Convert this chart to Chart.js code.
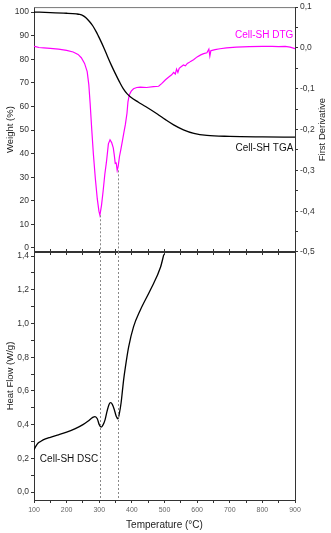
<!DOCTYPE html>
<html><head><meta charset="utf-8">
<script src="https://cdn.jsdelivr.net/npm/chart.js@4"></script>
<style>
html,body{margin:0;padding:0;background:#fff;}
#wrap{position:relative;width:331px;height:533px;}
canvas{position:absolute;left:0;top:0;}
</style></head><body>
<div id="wrap"><canvas id="c1" width="331" height="533"></canvas><canvas id="c2" width="331" height="533"></canvas></div>
<script>
// ---- data ----
const tgaTemp   = [100,150,200,230,240,250,260,270,280,290,297,303,315,325,337,349,362,374,385,395,420,442,478,503,528,558,590,630,700,800,900];
const tgaWeight = [100,99.8,99.5,99.2,99.0,98.5,97.5,96.0,94.2,91.8,89.9,88.2,84.6,81.3,77.5,74.0,70.4,67.4,65.4,64.1,61.8,60.0,56.8,54.4,52.2,50.1,48.6,47.7,47.3,47.1,47.0];

const dtgTemp  = [100,105,115,130,150,175,200,220,235,245,255,263,268,272,277,282,288,294,299,302,307,312,317,322,328,333,338,343,346,349,352,355,358,362,366,371,376,380,385,388,392,398,405,415,426,445,466,482,492,503,515,522,528,533,537,541,545,550,558,564,570,575,580,589,600,611,620,630,636,639,642,646,655,670,690,720,760,800,830,850,870,885,900];
const dtgValue = [0.004,0.003,0.001,0.0,-0.001,-0.003,-0.006,-0.01,-0.016,-0.024,-0.038,-0.058,-0.09,-0.135,-0.2,-0.26,-0.32,-0.37,-0.4,-0.41,-0.385,-0.35,-0.31,-0.28,-0.235,-0.225,-0.232,-0.245,-0.262,-0.283,-0.282,-0.3,-0.29,-0.266,-0.25,-0.228,-0.205,-0.188,-0.16,-0.132,-0.115,-0.106,-0.1,-0.097,-0.096,-0.097,-0.095,-0.094,-0.087,-0.078,-0.07,-0.066,-0.06,-0.064,-0.052,-0.06,-0.05,-0.047,-0.042,-0.044,-0.038,-0.036,-0.033,-0.029,-0.022,-0.017,-0.014,-0.012,-0.003,-0.02,-0.007,-0.006,-0.004,-0.002,0.0,0.002,0.003,0.004,0.004,0.003,0.004,0.002,-0.002];

const dscTemp = [100,105,112,120,135,150,175,200,225,250,265,280,287,294,300,306,312,318,324,330,335,340,346,352,357,362,367,371,375,380,390,405,426,457,488,498];
const dscHeat = [0.25,0.27,0.29,0.30,0.315,0.325,0.34,0.355,0.375,0.40,0.42,0.443,0.448,0.435,0.40,0.385,0.40,0.43,0.48,0.52,0.53,0.52,0.49,0.45,0.435,0.47,0.53,0.6,0.67,0.74,0.86,0.98,1.08,1.2,1.335,1.41];

const markTemps = [302, 356];
const markDtg   = [-0.41, -0.30];

const xTicks      = [100,150,200,250,300,350,400,450,500,550,600,650,700,750,800,850,900];
const weightTicks = [0,5,10,15,20,25,30,35,40,45,50,55,60,65,70,75,80,85,90,95,100];
const derivTicks  = [0.1,0.05,0,-0.05,-0.1,-0.15,-0.2,-0.25,-0.3,-0.35,-0.4,-0.45,-0.5];
const heatTicks   = [0,0.1,0.2,0.3,0.4,0.5,0.6,0.7,0.8,0.9,1.0,1.1,1.2,1.3,1.4];

// ---- helpers ----
const FAM = '"Liberation Sans", Arial, sans-serif';
Chart.defaults.font.family = FAM;
const zip = (a,b) => a.map((v,i)=>({x:v,y:b[i]}));
const isMajor = (v, step) => Math.abs(v/step - Math.round(v/step)) < 1e-6;
const comma = v => (Math.abs(v) < 1e-9 ? 0 : v).toFixed(1).replace('.', ',');
const setTicks = arr => s => { s.ticks = arr.map(v=>({value:v})); };
const AX = '#333';

const topPlugin = {
  id:'topOverlay',
  afterDatasetsDraw(chart){
    const {ctx, chartArea:a, scales:{x, yW, yD}} = chart;
    ctx.save();
    ctx.strokeStyle = '#777'; ctx.lineWidth = 1;
    ctx.beginPath(); ctx.moveTo(a.left, a.top+0.5); ctx.lineTo(a.right, a.top+0.5); ctx.stroke();
    ctx.setLineDash([2,2]); ctx.strokeStyle = '#888';
    markTemps.forEach((t,i)=>{
      const px = Math.round(x.getPixelForValue(t))+0.5;
      ctx.beginPath(); ctx.moveTo(px, yD.getPixelForValue(markDtg[i])); ctx.lineTo(px, a.bottom); ctx.stroke();
    });
    ctx.setLineDash([]);
    ctx.font = '10px ' + FAM; ctx.textAlign = 'right'; ctx.textBaseline = 'middle';
    ctx.fillStyle = '#ff00ff';
    ctx.fillText('Cell-SH DTG', x.getPixelForValue(895), yD.getPixelForValue(0.031));
    ctx.fillStyle = '#111';
    ctx.fillText('Cell-SH TGA', x.getPixelForValue(895), yW.getPixelForValue(42.4));
    // right-axis title, reading bottom to top as in the reference
    ctx.translate(yD.right - 9, (a.top + a.bottom) / 2);
    ctx.rotate(-Math.PI / 2);
    ctx.font = '9.5px ' + FAM; ctx.textAlign = 'center'; ctx.fillStyle = '#222';
    ctx.fillText('First Derivative', 0, 0);
    ctx.restore();
  }
};
const botPlugin = {
  id:'botOverlay',
  afterDatasetsDraw(chart){
    const {ctx, chartArea:a, scales:{x, yH}} = chart;
    ctx.save();
    ctx.strokeStyle = AX; ctx.lineWidth = 1;
    ctx.beginPath(); ctx.moveTo(a.right+0.5, a.top); ctx.lineTo(a.right+0.5, a.bottom); ctx.stroke();
    ctx.setLineDash([2,2]); ctx.strokeStyle = '#888';
    markTemps.forEach(t=>{
      const px = Math.round(x.getPixelForValue(t))+0.5;
      ctx.beginPath(); ctx.moveTo(px, a.top); ctx.lineTo(px, a.bottom); ctx.stroke();
    });
    ctx.setLineDash([]);
    ctx.font = '10px ' + FAM; ctx.textAlign = 'left'; ctx.textBaseline = 'middle';
    ctx.fillStyle = '#111';
    ctx.fillText('Cell-SH DSC', x.getPixelForValue(118), yH.getPixelForValue(0.196));
    ctx.restore();
  }
};

const yTickFont = {size:8.5, family:FAM};

new Chart(document.getElementById('c1'), {
  type:'scatter',
  data:{datasets:[
    {label:'Cell-SH TGA', data:zip(tgaTemp,tgaWeight), yAxisID:'yW', borderColor:'#000', borderWidth:1.3, showLine:true, pointRadius:0, cubicInterpolationMode:'monotone'},
    {label:'Cell-SH DTG', data:zip(dtgTemp,dtgValue), yAxisID:'yD', borderColor:'#ff00ff', borderWidth:1.2, showLine:true, pointRadius:0, tension:0}
  ]},
  options:{
    responsive:false, animation:false, devicePixelRatio:1,
    layout:{padding:{top:5,bottom:277,left:0,right:0}},
    plugins:{legend:{display:false}, tooltip:{enabled:false}},
    scales:{
      x:{type:'linear', position:'bottom', min:100, max:900, afterBuildTicks:setTicks(xTicks),
         ticks:{display:false}, grid:{drawOnChartArea:false, tickLength:3, color:AX}, border:{color:AX},
         afterFit:s=>{s.height=4;}},
      yW:{type:'linear', position:'left', min:-1.7, max:102.1, afterBuildTicks:setTicks(weightTicks),
         ticks:{callback:v=>isMajor(v,10)?String(v):'', font:yTickFont, color:'#333', padding:2},
         grid:{drawOnChartArea:false, tickLength:3, color:AX}, border:{color:AX},
         title:{display:true, text:'Weight (%)', font:{size:9.5,family:FAM}, color:'#222', padding:{top:4.5,bottom:0}},
         afterFit:s=>{s.width=34;}},
      yD:{type:'linear', position:'right', min:-0.5, max:0.1, afterBuildTicks:setTicks(derivTicks),
         ticks:{callback:v=>isMajor(v,0.1)?comma(v):'', font:yTickFont, color:'#333', padding:2},
         grid:{drawOnChartArea:false, tickLength:3, color:AX}, border:{color:AX},
         title:{display:false},
         afterFit:s=>{s.width=36;}}
    }
  },
  plugins:[topPlugin]
});

new Chart(document.getElementById('c2'), {
  type:'scatter',
  data:{datasets:[
    {label:'Cell-SH DSC', data:zip(dscTemp,dscHeat), xAxisID:'x', yAxisID:'yH', borderColor:'#000', borderWidth:1.3, showLine:true, pointRadius:0, cubicInterpolationMode:'monotone'}
  ]},
  options:{
    responsive:false, animation:false, devicePixelRatio:1,
    layout:{padding:{top:248,bottom:0,left:0,right:36}},
    plugins:{legend:{display:false}, tooltip:{enabled:false}},
    scales:{
      x:{type:'linear', position:'bottom', min:100, max:900, afterBuildTicks:setTicks(xTicks),
         ticks:{callback:v=>isMajor(v,100)?String(v):'', font:{size:7,family:FAM}, color:'#666', padding:3, maxRotation:0, autoSkip:false},
         grid:{drawOnChartArea:false, tickLength:3, color:AX}, border:{color:AX},
         title:{display:true, text:'Temperature (°C)', font:{size:10,family:FAM}, color:'#222', padding:{top:0,bottom:2}},
         afterFit:s=>{s.height=33;}},
      xTop:{type:'linear', position:'top', min:100, max:900, afterBuildTicks:setTicks(xTicks),
         ticks:{display:false}, grid:{drawOnChartArea:false, tickLength:3, color:AX}, border:{color:AX},
         afterFit:s=>{s.height=4;}},
      yH:{type:'linear', position:'left', min:-0.047, max:1.424, afterBuildTicks:setTicks(heatTicks),
         ticks:{callback:v=>isMajor(v,0.2)?comma(v):'', font:yTickFont, color:'#333', padding:2},
         grid:{drawOnChartArea:false, tickLength:3, color:AX}, border:{color:AX},
         title:{display:true, text:'Heat Flow (W/g)', font:{size:9.5,family:FAM}, color:'#222', padding:{top:4.5,bottom:0}},
         afterFit:s=>{s.width=34;}}
    }
  },
  plugins:[botPlugin]
});
</script>
</body></html>
